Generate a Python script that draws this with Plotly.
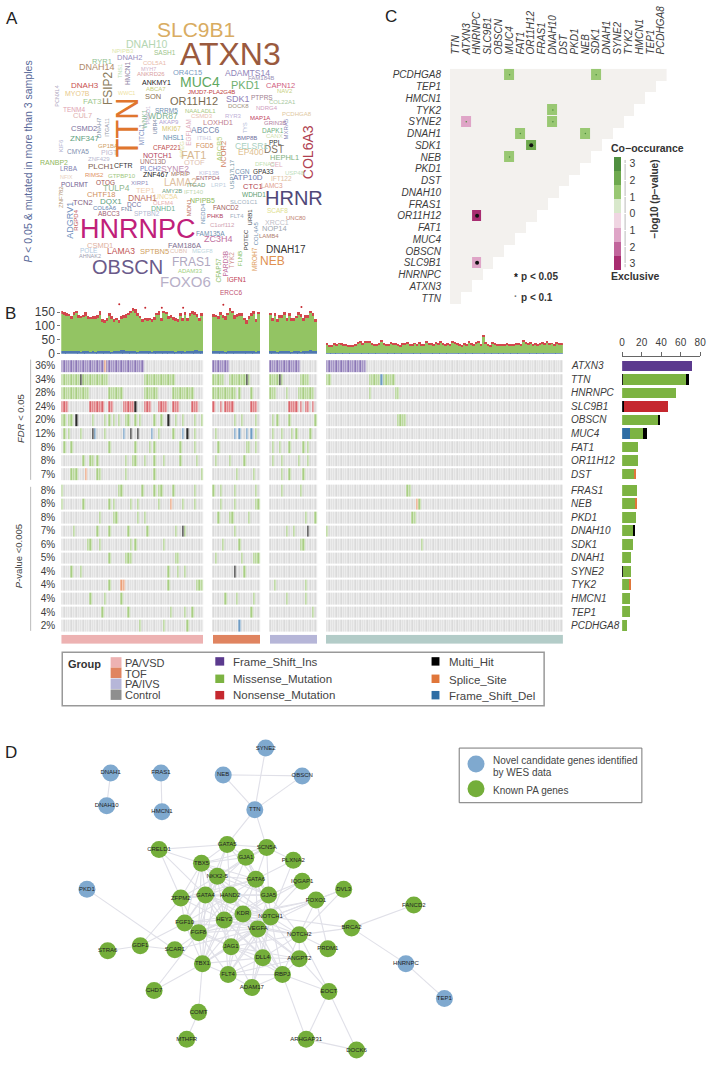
import plotly.graph_objects as go

W, H = 718, 1070
FONT = "Liberation Sans"
TXT = "#3c3c3c"

# ---- panel A, word cloud: word, x, y, size, colour, angle
words = [
 ("SLC9B1",195,30,21,"#D9AC62",0),("ATXN3",230,54,32,"#9A5A3E",0),("DNAH10",146,44,10.5,"#B5D6B2",0),
 ("NPIPB3",122,51,6,"#DDE6A8",0),("SASH1",164,53,6.5,"#9CC48A",0),("RYR1",100,62,7.5,"#8FBF8F",0),
 ("DNAH2",128,58,7.5,"#9A8FC0",0),("COL5A1",154,63,6,"#E8B8A8",0),("DNAH14",95,67,9,"#B08A6A",0),
 ("MYH7",147,69,5.5,"#D0B0C8",0),("ANKRD26",150,74,6,"#D9A0A0",0),("OR4C15",187,73,7.5,"#7A9ABF",0),
 ("ADAMTS14",248,73,8.5,"#8E82B8",0),("FAM184B",261,79,6,"#9A90B8",0),("FSIP2",107,89,12,"#8A7B5C",-90),
 ("TNS1",118,72,5.5,"#B5DDB0",-90),("HMCN1",126,74,6.5,"#8F85A8",-90),("ANKMY1",155,83,7,"#222222",0),
 ("ABCA7",155,90,6,"#C8D080",0),("MUC4",199,83,14,"#5FA85F",0),("PKD1",246,86,11,"#6FB06F",0),
 ("CAPN12",281,86,7.5,"#D06080",0),("DNAH3",83,86,8,"#C85050",0),("MYO7B",75,94,7,"#E8C88A",0),
 ("JMJD7-PLA2G4B",211,93,6,"#C04040",0),("NAV2",286,92,6,"#C8D080",0),("WWC1",125,94,5.5,"#EEE2A0",0),
 ("SON",152,97,7.5,"#8A7050",0),("FAT3",91,102,8,"#A0C890",0),("OR11H12",193,102,11,"#7A6A50",0),
 ("SDK1",238,100,9,"#8F7FB8",0),("PTPRS",262,98,6.5,"#A08090",0),("COL22A1",283,103,6,"#A8C8A0",0),
 ("DOCK8",238,107,6,"#A09080",0),("PCNXL4",55,97,5.5,"#B0A8C0",-90),("TENM4",72,110,6.5,"#E0A0B0",0),
 ("CUL7",81,116,7.5,"#E0B0B0",0),("NDRG4",267,109,6,"#D0A0C0",0),("NAALADL1",200,112,6,"#A8C880",0),
 ("SRRM5",166,111,6.5,"#7090B0",0),("CSMD3",202,117,6,"#E8C0B0",0),("PCDHGA8",298,115,6,"#E0C8A0",0),
 ("DNAH7",97,128,6,"#8090A8",-90),("ITGA11",105,128,5.5,"#9098A8",-90),("WDR87",162,117,8.5,"#80B090",0),
 ("RYR3",233,117,6,"#C0B0D8",0),("MAP1A",260,119,6,"#C04060",0),("GRIN3B",275,124,6,"#B080A0",0),
 ("AKAP9",168,123,6,"#B0A0D0",0),("MKI67",171,129,6.5,"#D8C870",0),("LOXHD1",218,123,7.5,"#C08090",0),
 ("MTCL1",140,135,6.5,"#8090C0",-90),("WNK1",143,120,6.5,"#90C0A0",-90),("PRKD1",147,116,5.5,"#C0B0D0",-90),
 ("UBR4",154,128,5.5,"#7080A0",-90),("EGFLAM",187,133,6.5,"#E0B0C0",-90),("CSMD2",82,129,7.5,"#7A70A0",0),
 ("ZNF347",83,139,8,"#60A080",0),("ABCC6",205,131,8.5,"#7888B0",0),("TYS",245,128,5.5,"#B0B8D8",-90),
 ("DAPK1",273,131,6.5,"#70B080",0),("CANX",275,137,6,"#D0E0B0",0),("MXRA5",287,130,6,"#8888B8",-90),
 ("NHSL1",173,138,6.5,"#6090B0",0),("BMP8B",247,139,6,"#7070A0",0),("ITIH1",204,139,6,"#C8C8E0",0),
 ("PPL",276,143,6.5,"#333333",0),("DST",274,150,10,"#807060",0),("FGD5",205,146,6.5,"#D09060",0),
 ("CFAP221",166,148,6.5,"#C05050",0),("GP1BA",106,147,6,"#D0A060",0),("ABCB5",219,150,7.5,"#B0D080",-90),
 ("NCOR2",224,155,7.5,"#D08060",-90),("CELSR1",252,147,8.5,"#A8D0C0",0),("KIF6",59,147,6,"#B0B0D0",-90),
 ("CMYA5",76,152,6.5,"#8090B0",0),("PIGT",108,154,7,"#C0B8D0",0),("SPEG",181,150,6,"#D8E0A0",-90),
 ("NOTCH1",156,157,7,"#B04060",0),("FAT1",193,156,11,"#D8B890",0),("EP400",251,153,8.5,"#E0C090",0),
 ("HEPHL1",285,159,7.5,"#80B080",0),("ZNF429",97,160,6,"#B8B8D0",0),("UNC13D",152,163,6.5,"#A07070",0),
 ("OTOF",194,164,7.5,"#E0C0B0",0),("USP17L17",232,175,6,"#7090A0",-90),("RANBP2",52,164,7,"#90B860",0),
 ("DFNA5",265,165,6,"#C0E0B0",0),("CEL",277,166,6.5,"#E0B0C0",0),("PLCH1",99,168,8,"#806050",0),
 ("CFTR",122,167,7,"#333333",0),("LRBA",67,170,6.5,"#8080B0",0),("SYNE2",174,170,8.5,"#C090B0",0),
 ("PLCH2",149,170,6.5,"#7080C0",0),("COL6A3",309,153,14,"#B04050",-90),("RIMS2",93,176,6,"#E09060",0),
 ("GTPBP10",120,177,6,"#A0C880",0),("ZNF467",154,176,7,"#222222",0),("MPRIP",180,175,6,"#A07060",0),
 ("KIF13B",209,174,6,"#C0C0E0",0),("CGN",243,173,6.5,"#7090B0",0),("GPA33",264,173,6.5,"#333333",0),
 ("USP48",296,174,6,"#C0E0C0",0),("ENTPD4",208,179,6,"#A06070",0),("ATP10D",248,179,8,"#7080B0",0),
 ("IFT122",282,180,6.5,"#E0C0A0",0),("NFIX",64,178,5.5,"#E8D0C0",0),("POLRMT",72,186,6.5,"#706090",0),
 ("OTOG",104,184,6.5,"#A05050",0),("LAMA2",180,184,10,"#E0C0A0",0),("XIRP1",139,184,6,"#9090C0",0),
 ("ITGAD",196,186,6,"#70A080",0),("LRP1",219,186,6,"#C0D0E0",0),("LAMC3",272,187,6.5,"#E0A090",0),
 ("CTC1",253,188,7.5,"#B04050",0),("ZNF782",58,198,6,"#B09070",-90),("CHTF18",99,196,7.5,"#D09060",0),
 ("TULP4",115,189,8.5,"#90B890",0),("TEP1",144,192,7.5,"#F0D0B0",0),("AMY2B",171,192,6,"#70A080",0),
 ("IFT140",193,193,6,"#C0D8B0",0),("WDHD1",254,196,6.5,"#60A070",0),("DNAH1",141,199,8.5,"#C07060",0),
 ("UNC5A",165,198,7,"#F0D8A0",0),("ADGRV1",67,222,9,"#7090C0",-90),("RGPD4",73,222,6,"#C05050",-90),
 ("TCN2",81,204,7.5,"#806080",0),("DQX1",109,203,8,"#60A080",0),("DCC",133,206,6.5,"#7070A0",0),
 ("NPIPB5",202,202,7,"#90B860",0),("SLCO1C1",244,203,6,"#A0B0C0",0),("OLFM4",163,204,6,"#E8B0B0",0),
 ("COL6A6",103,209,6,"#6080B0",0),("ABCC3",107,215,6.5,"#A06070",0),("FN1",126,210,6,"#7080A0",0),
 ("DNHD1",162,210,7,"#70B090",0),("MDN1",188,209,6,"#C07060",-90),("NEDD4",202,215,6,"#7090B0",-90),
 ("FANCD2",226,209,6.5,"#A06060",0),("FLT4",237,217,6,"#A0B0C0",0),("URB1",250,218,6,"#333333",-90),
 ("SCAF8",278,212,6.5,"#E0E090",0),("UNC80",297,219,6,"#C08070",0),("SPTBN2",146,215,6.5,"#B0B8D0",0),
 ("PHKB",215,217,6,"#B04060",0),("XRCC1",277,224,7,"#C0C0C8",0),("C1orf112",222,226,6,"#D0A0B0",0),
 ("NOP14",275,230,7.5,"#A0A8B0",0),("HNRNPC",137,231,27,"#C0207A",0),("POTEC",246,241,6,"#333333",-90),
 ("COL4A5",257,235,6,"#7090B0",-90),("FAM135A",210,235,6.5,"#7090B0",0),("LAMB4",269,238,6,"#B08070",0),
 ("FAM186A",184,247,7.5,"#807090",0),("ZC3H4",218,241,9,"#C070A0",0),("CSMD1",98,247,7.5,"#E0B0A0",0),
 ("CUBN",178,253,6,"#E0C0B0",0),("LAMA3",119,253,8.5,"#C05050",0),("SPTBN5",153,253,7.5,"#D0A060",0),
 ("POLE",87,252,6.5,"#B0C8E0",0),("MEGF8",202,253,6,"#C0D8E0",0),("DNAH17",287,251,10,"#333333",0),
 ("AHNAK2",88,258,5.5,"#A0A0B0",0),("HRNR",295,199,20,"#504878",0),("NEB",273,263,12,"#E09050",0),
 ("OBSCN",126,269,20,"#6A5A8A",0),("FRAS1",191,264,12,"#B0A8C0",0),("ADAM33",190,273,6,"#A0D080",0),
 ("FOXO6",185,283,15,"#B8B0C8",0),("CFAP57",218,272,6.5,"#90C070",-90),("PARD3B",225,265,6.5,"#C070A0",-90),
 ("TYK2",231,262,6.5,"#D09090",-90),("FLNB",240,260,6,"#80C060",-90),("MROH7",254,261,6.5,"#E0A060",-90),
 ("IGFN1",237,281,6.5,"#C04050",0),("ERCC6",231,294,6.5,"#C05070",0),("TTN",126,128,31,"#E0762E",-90),
]

# ---- panel B, oncoprint
onco_genes = ["ATXN3","TTN","HNRNPC","SLC9B1","OBSCN","MUC4","FAT1","OR11H12","DST",
              "FRAS1","NEB","PKD1","DNAH10","SDK1","DNAH1","SYNE2","TYK2","HMCN1","TEP1","PCDHGA8"]
onco_pct = ["36%","34%","28%","24%","20%","12%","8%","8%","7%",
            "8%","8%","8%","7%","6%","5%","4%","4%","4%","4%","2%"]
row_y = [0,1,2,3,4,5,6,7,8,9.2,10.2,11.2,12.2,13.2,14.2,15.2,16.2,17.2,18.2,19.2]
group_sizes = [60, 20, 20, 100]
group_names = ["PA/VSD", "TOF", "PA/IVS", "Control"]
group_colors = ["#EDB2B2", "#E08460", "#B6B6D8", "#B3CCC8"]
mut_colors = {"N": "#DADADA", "I": "#5B3A8E", "M": "#7CB342", "S": "#C5282F",
              "H": "#000000", "P": "#E0763A", "D": "#2E6DA4"}
# oncoprint strips are one sample wide and read paler than the solid bars
cell_colors = {"N": "#DADADA", "I": "#8C78B6", "M": "#A9CE84", "S": "#D9666C",
               "H": "#2A2A2A", "P": "#EBA078", "D": "#6E9CC4"}

def r(a, b):
    return list(range(a, b + 1))

# sample numbers inside each group: (PA/VSD, TOF, PA/IVS, Control), per mutation type
onco = {
 "ATXN3": {"I": (r(0,17)+r(19,34), r(0,6), r(0,12), r(0,16)), "P": ([18],[],[],[])},
 "TTN": {"M": (r(0,7)+r(9,19)+r(35,47), r(0,4)+r(7,13)+[15], r(0,3)+[5]+r(13,16), [0,1]+r(18,22)+r(24,28)),
         "H": ([8],[14],[4],[]), "D": ([],[],[],[23])},
 "HNRNPC": {"M": (r(0,11)+r(20,25)+r(35,40)+r(47,55), r(0,4)+r(5,9)+[11,16], r(0,2)+[7]+r(12,18), [18,29,30])},
 "SLC9B1": {"S": (r(0,2)+r(12,17)+[20,21]+r(26,30)+r(35,37)+r(41,44)+r(47,49)+r(55,57), [0,3]+r(5,8)+r(16,18), r(8,11)+[13,15,16,18], []),
            "H": ([31],[],[],[])},
 "OBSCN": {"M": ([0,1,3,4,13,18,20,27,28,33,39,42,48,51,56,59,22,31,24], [9,12,18], [1,3,8,19], r(30,33)),
           "H": ([6,45],[],[],[])},
 "MUC4": {"M": ([1,3,8,41,18,47,56], [1,18], [1,5,9,11,17], []), "H": ([13,29,32,53],[],[],[]),
          "D": ([14,26,38,51],[9,11,14,16],[],[])},
 "FAT1": {"M": ([1,4,20,31,39,50,37,56], [2,14,18,15], [1,4,8,14,16], [])},
 "OR11H12": {"M": ([9,12,13,15,27,30,31,35,39,43,50,57], [1,7,13], [1,5,12,16], [])},
 "DST": {"M": ([4,5,6,15,16,27,39,59], [10,17], [5,8,14], []), "P": ([10],[],[],[])},
 "FRAS1": {"M": ([0,24,25,34,39,41,42,47,56], [0,3,9,18], [5,13], [34,35])},
 "NEB": {"M": ([0,9,20,22,29,32,41,51,56], [3,9,18,19], [], [39]), "P": ([46],[],[],[38])},
 "PKD1": {"M": ([16,22,23,32,35], [2,7,8,15], [15,19], [36,37])},
 "DNAH10": {"M": ([5,15,20,28,36,48,52], [9], [7,10], [0]), "H": ([51],[],[16],[])},
 "SDK1": {"M": ([11,12,16,29,31,43], [4,11], [13,14], [40])},
 "DNAH1": {"M": ([20,27,28,29,48,49], [1,12,17,18,19], [], [])},
 "SYNE2": {"M": ([4,8,45,49,52], [13], [], []), "H": ([],[9],[],[])},
 "TYK2": {"M": ([20,45,57,58,59], [], [2,15], []), "P": ([25,26],[],[],[])},
 "HMCN1": {"M": ([12,18,25], [5,10,17], [7,15], [])},
 "TEP1": {"M": ([17,28,46,52,55], [16], [18], [])},
 "PCDHGA8": {"M": ([33,43,53], [], [], []), "D": ([],[11],[],[])},
}

# mutation burden per sample
burden_total = [
 152,150,146,143,137,150,155,140,135,140,150,136,133,135,134,138,152,125,120,128,
 146,136,125,128,122,135,138,142,148,155,165,160,145,135,126,130,128,130,126,132,
 148,152,128,155,150,135,140,132,128,125,145,130,150,128,145,152,150,142,130,145,
 142,140,136,150,138,135,148,165,155,138,142,145,148,130,120,135,145,155,125,150,
 148,130,145,125,138,140,150,128,145,130,128,135,150,142,130,138,140,155,145,125,
 38,30,32,36,34,38,36,33,32,31,30,30,32,42,44,40,46,44,42,36,
 32,34,38,46,36,34,32,40,38,36,34,30,36,38,42,34,32,38,36,40,
 34,32,44,36,38,34,40,36,42,38,34,36,32,44,40,38,34,30,36,34,
 44,36,32,42,44,34,66,42,32,30,40,36,34,32,34,32,38,36,32,34,
 36,38,36,48,40,36,42,34,38,32,36,42,38,44,36,38,32,42,36,38,
]
burden_blue = [
 11,9,8,9,8,10,11,8,7,8,9,8,7,8,7,8,9,9,8,8,
 8,7,8,9,8,12,14,11,9,8,9,8,7,9,8,9,8,8,7,9,
 8,9,8,8,9,9,10,8,7,8,9,8,7,9,8,9,14,12,8,9,
 8,9,8,9,8,7,9,8,8,9,8,9,10,11,10,9,8,8,7,9,
 8,9,8,7,9,8,8,9,8,7,8,9,8,7,8,8,9,15,10,8,
 3,2,2,3,2,2,3,2,2,2,3,2,2,3,2,2,3,2,2,2,
 3,2,2,3,2,2,3,2,2,3,2,2,3,2,2,2,3,2,3,2,
 2,3,2,2,3,2,2,2,3,2,3,2,2,3,2,2,2,3,2,2,
 3,2,2,3,2,2,3,2,2,2,3,2,2,3,2,2,3,2,2,2,
 2,3,2,2,2,3,2,2,3,2,2,3,2,2,3,2,2,3,2,2,
]
burden_red = [
 8,10,12,9,11,9,10,12,8,9,14,10,8,9,7,9,12,10,8,12,
 9,11,12,8,10,9,11,12,10,9,12,13,10,8,11,9,12,10,11,9,
 10,12,11,9,8,11,10,12,9,10,8,12,10,11,9,10,12,9,13,9,
 10,9,12,10,8,12,9,11,10,12,9,10,11,8,12,10,9,11,12,8,
 10,12,9,11,8,10,9,12,10,11,9,8,12,9,11,10,12,9,10,11,
 4,3,5,3,4,3,4,5,3,4,3,3,4,5,4,6,5,4,3,4,
 3,4,5,4,3,4,3,5,4,3,4,3,4,5,4,3,4,3,5,4,
 3,4,5,3,4,3,5,4,3,4,5,3,4,4,5,4,3,4,3,4,
 5,4,3,4,5,3,6,4,3,4,5,3,4,3,4,3,4,5,3,4,
 3,4,5,4,3,4,5,3,4,3,4,5,4,3,4,3,4,5,3,4,
]
outlier_samples = [24, 35, 42, 51, 68, 101]
outlier_values = [178, 165, 165, 165, 176, 168]

# right hand bars
bar_del = [0,0,0,0,0,8,0,0,0,0,0,0,0,0,0,0,0,0,0,0]
bar_lead = [0,0.7,0,1.5,0,0,0,0,0,0,0,0,0,0,0,0.7,0,0,0,0]
bar_ins = [71.5,0,0,0,0,0,0,0,0,0,0,0,0,0,0,0,0,0,0,0]
bar_mis = [0,64.5,55,0,37,13,16.5,16.5,13,15.6,13.5,14.6,12,11.6,9.5,8,8,8,8,4.8]
bar_non = [0,0,0,45.5,0,0,0,0,0,0,0,0,0,0,0,0,0,0,0,0]
bar_hit = [0,3,0,0,2,4,0,0,0,0,0,0,1.5,0,0,0,0,0,0,0]
bar_spl = [0,0,0,0,0,0,0,0,1,0,1.5,0,0,0,0,0,1,0,0,0]

# ---- panel C, pairwise somatic interactions
c_genes = ["TTN","ATXN3","HNRNPC","SLC9B1","OBSCN","MUC4","FAT1","OR11H12","FRAS1","DNAH10",
           "DST","PKD1","NEB","SDK1","DNAH1","SYNE2","TYK2","HMCN1","TEP1","PCDHGA8"]
c_pairs = [("PCDHGA8","MUC4",1.5),("PCDHGA8","SDK1",1.5),("TYK2","DNAH10",1.5),("SYNE2","DNAH10",1.5),
           ("SYNE2","ATXN3",-1.5),("DNAH1","FAT1",1.5),("DNAH1","NEB",1.5),("SDK1","OR11H12",2.0),
           ("NEB","MUC4",1.5),("OR11H12","HNRNPC",-2.6),("SLC9B1","HNRNPC",-1.5)]
c_star = [("SDK1","OR11H12"),("OR11H12","HNRNPC"),("SLC9B1","HNRNPC")]
c_dot = [("PCDHGA8","MUC4"),("PCDHGA8","SDK1"),("TYK2","DNAH10"),("SYNE2","DNAH10"),("SYNE2","ATXN3"),
         ("DNAH1","FAT1"),("DNAH1","NEB"),("NEB","MUC4")]
c_bands = ["#A82C70","#C2659C","#DFA5C7","#F0D5E2","#D8E8CB","#99C873","#6EA94E","#4F8F3F"]
c_ticks = [-3,-2,-1,0,1,2,3]

# ---- panel D, network
nodes_blue = {"SYNE2":(266,753),"DNAH1":(109,778),"FRAS1":(160,778),"NEB":(223,780),"OBSCN":(303,781),
              "DNAH10":(105,811),"HMCN1":(161,817),"TTN":(255,815),"PKD1":(85,895),"HNRNPC":(408,970),"TEP1":(447,1005)}
nodes_green = {"CRELD1":(158,855),"GATA5":(227,850),"SCN5A":(267,853),"GJA1":(246,863),"TBX5":(201,869),
               "PLXNA2":(294,866),"NKX2-5":(217,882),"GATA6":(256,885),"IQGAP1":(303,887),"DVL3":(345,895),
               "GATA4":(205,901),"HAND2":(230,901),"GJA5":(269,901),"ZFPM2":(180,904),"FOXO1":(317,906),
               "FANCD2":(416,911),"KDR":(243,920),"NOTCH1":(271,923),"HEY2":(224,926),"FGF10":(184,929),
               "VEGFA":(258,935),"BRCA2":(353,934),"FGF8":(198,939),"NOTCH2":(300,941),"JAG1":(231,953),
               "GDF1":(139,952),"SCAR1":(174,956),"STRA6":(106,957),"PRDM1":(329,955),"DLL4":(263,964),
               "ANGPT2":(300,965),"TBX1":(202,970),"FLT4":(228,981),"RBPJ":(283,981),"ADAM17":(252,994),
               "CHD7":(153,997),"EOCT":(330,998),"COMT":(198,1019),"MTHFR":(186,1046),"ARHGAP31":(307,1046),
               "DOCK6":(358,1057)}
edges = [
 ("TTN","SYNE2"),("TTN","NEB"),("TTN","OBSCN"),("NEB","OBSCN"),("DNAH1","DNAH10"),("FRAS1","HMCN1"),
 ("TTN","GATA5"),("TTN","SCN5A"),("PKD1","SCAR1"),("SCAR1","TBX1"),("STRA6","GDF1"),("GDF1","FGF10"),
 ("GDF1","ZFPM2"),("GDF1","SCAR1"),("SCAR1","FGF8"),("CHD7","TBX1"),("CHD7","FGF8"),("COMT","TBX1"),
 ("COMT","MTHFR"),("CRELD1","TBX5"),("CRELD1","GATA5"),("CRELD1","ZFPM2"),("CRELD1","GATA4"),
 ("FANCD2","BRCA2"),("BRCA2","HNRNPC"),("HNRNPC","TEP1"),("BRCA2","NOTCH1"),("BRCA2","NOTCH2"),
 ("DVL3","NOTCH1"),("DVL3","FOXO1"),("DVL3","NOTCH2"),("PRDM1","NOTCH2"),("PRDM1","FOXO1"),("EOCT","NOTCH2"),
 ("EOCT","ANGPT2"),("EOCT","RBPJ"),("EOCT","ARHGAP31"),("EOCT","DOCK6"),("ARHGAP31","DOCK6"),("ARHGAP31","RBPJ"),
 ("PLXNA2","GATA6"),("PLXNA2","NOTCH1"),("PLXNA2","SCN5A"),("IQGAP1","KDR"),("IQGAP1","VEGFA"),("IQGAP1","GJA5"),
 ("FOXO1","NOTCH1"),("FOXO1","VEGFA"),("FOXO1","KDR"),("FOXO1","NOTCH2"),("FOXO1","HEY2"),
 ("GATA5","SCN5A"),("GATA5","GJA1"),("GATA5","TBX5"),("GATA5","NKX2-5"),("GATA5","GATA6"),("GATA5","GATA4"),
 ("GATA5","HAND2"),("SCN5A","GJA1"),("SCN5A","GATA6"),("SCN5A","GJA5"),("SCN5A","NKX2-5"),("SCN5A","TBX5"),
 ("GJA1","TBX5"),("GJA1","NKX2-5"),("GJA1","GATA6"),("GJA1","GATA4"),("GJA1","GJA5"),("GJA1","HAND2"),("GJA1","NOTCH1"),
 ("TBX5","NKX2-5"),("TBX5","GATA6"),("TBX5","GATA4"),("TBX5","HAND2"),("TBX5","ZFPM2"),("TBX5","HEY2"),("TBX5","FGF10"),
 ("TBX5","GJA5"),("TBX5","FGF8"),("NKX2-5","GATA6"),("NKX2-5","GATA4"),("NKX2-5","HAND2"),("NKX2-5","GJA5"),
 ("NKX2-5","ZFPM2"),("NKX2-5","KDR"),("NKX2-5","HEY2"),("NKX2-5","NOTCH1"),("NKX2-5","FGF10"),("NKX2-5","FGF8"),
 ("NKX2-5","TBX1"),("NKX2-5","VEGFA"),("GATA6","GATA4"),("GATA6","HAND2"),("GATA6","GJA5"),("GATA6","ZFPM2"),
 ("GATA6","NOTCH1"),("GATA6","KDR"),("GATA6","HEY2"),("GATA6","VEGFA"),("GATA4","HAND2"),("GATA4","ZFPM2"),
 ("GATA4","GJA5"),("GATA4","KDR"),("GATA4","NOTCH1"),("GATA4","HEY2"),("GATA4","FGF10"),("GATA4","FGF8"),
 ("GATA4","TBX1"),("GATA4","VEGFA"),("GATA4","JAG1"),("HAND2","GJA5"),("HAND2","ZFPM2"),("HAND2","KDR"),
 ("HAND2","NOTCH1"),("HAND2","HEY2"),("HAND2","FGF10"),("HAND2","FGF8"),("HAND2","VEGFA"),("HAND2","TBX1"),
 ("GJA5","NOTCH1"),("GJA5","KDR"),("GJA5","VEGFA"),("GJA5","HEY2"),("GJA5","NOTCH2"),("ZFPM2","FGF10"),("ZFPM2","HEY2"),
 ("ZFPM2","FGF8"),("KDR","NOTCH1"),("KDR","HEY2"),("KDR","VEGFA"),("KDR","FGF8"),("KDR","FGF10"),("KDR","JAG1"),
 ("KDR","DLL4"),("KDR","NOTCH2"),("KDR","ANGPT2"),("KDR","FLT4"),("KDR","TBX1"),("KDR","RBPJ"),("NOTCH1","HEY2"),
 ("NOTCH1","VEGFA"),("NOTCH1","NOTCH2"),("NOTCH1","JAG1"),("NOTCH1","DLL4"),("NOTCH1","ANGPT2"),("NOTCH1","RBPJ"),
 ("NOTCH1","FLT4"),("NOTCH1","FGF8"),("NOTCH1","TBX1"),("NOTCH1","ADAM17"),("HEY2","VEGFA"),("HEY2","FGF10"),
 ("HEY2","FGF8"),("HEY2","JAG1"),("HEY2","DLL4"),("HEY2","NOTCH2"),("HEY2","TBX1"),("HEY2","FLT4"),("HEY2","RBPJ"),
 ("FGF10","FGF8"),("FGF10","VEGFA"),("FGF10","TBX1"),("FGF10","JAG1"),("VEGFA","FGF8"),("VEGFA","NOTCH2"),
 ("VEGFA","JAG1"),("VEGFA","DLL4"),("VEGFA","ANGPT2"),("VEGFA","TBX1"),("VEGFA","FLT4"),("VEGFA","RBPJ"),("VEGFA","ADAM17"),
 ("FGF8","TBX1"),("FGF8","JAG1"),("FGF8","FLT4"),("NOTCH2","JAG1"),("NOTCH2","DLL4"),("NOTCH2","ANGPT2"),("NOTCH2","RBPJ"),
 ("JAG1","DLL4"),("JAG1","TBX1"),("JAG1","FLT4"),("JAG1","RBPJ"),("JAG1","ADAM17"),("JAG1","ANGPT2"),("DLL4","ANGPT2"),
 ("DLL4","FLT4"),("DLL4","RBPJ"),("DLL4","ADAM17"),("DLL4","TBX1"),("ANGPT2","RBPJ"),("ANGPT2","FLT4"),("TBX1","FLT4"),
 ("FLT4","RBPJ"),("FLT4","ADAM17"),("RBPJ","ADAM17"),("SCAR1","VEGFA"),
]


def dx(a, b):
    return [a / W, b / W]

def dy(top, bottom):
    return [1 - bottom / H, 1 - top / H]

def px(x):
    return x / W

def py(y):
    return 1 - y / H

hidden = dict(visible=False, showgrid=False, zeroline=False)
fig = go.Figure()

# ---- A
fig.add_trace(go.Scatter(x=[w[1] for w in words], y=[w[2] for w in words], mode="markers",
                         marker=dict(opacity=0, size=1), xaxis="x", yaxis="y", hoverinfo="skip"))
anns = []
for w, x, y, s, c, a in words:
    anns.append(dict(text=w, x=x, y=y, xref="x", yref="y", showarrow=False, textangle=a,
                     xanchor="center", yanchor="middle", borderpad=0,
                     font=dict(size=s, color=c, family=FONT)))

# ---- C
c_idx = {g: i for i, g in enumerate(c_genes)}
rows = c_genes[::-1]
base = [[1 if c_idx[col] <= c_idx[row] else None for col in c_genes] for row in rows]
fig.add_trace(go.Heatmap(z=base, x=c_genes, y=rows, colorscale=[[0, "#F3F1EE"], [1, "#F3F1EE"]],
                         showscale=False, xaxis="x2", yaxis="y2", hoverongaps=False))
sig = [[None] * 20 for _ in rows]
for row, col, v in c_pairs:
    sig[rows.index(row)][c_idx[col]] = v
stops = []
for i, c in enumerate(c_bands):
    stops += [[i / 8, c], [(i + 1) / 8, c]]
fig.add_trace(go.Heatmap(z=sig, x=c_genes, y=rows, colorscale=stops, zmin=-3.4, zmax=3.4, xgap=1, ygap=1,
                         xaxis="x2", yaxis="y2", hoverongaps=False,
                         colorbar=dict(x=px(619), xanchor="left", y=py(215), yanchor="middle",
                                       len=114 / H, thickness=7, outlinewidth=0, ticks="outside", ticklen=7,
                                       tickcolor="white", xpad=0, ypad=0,
                                       tickvals=c_ticks, ticktext=[str(abs(t)) for t in c_ticks],
                                       tickfont=dict(size=10.5, color=TXT, family=FONT))))
fig.add_trace(go.Scatter(x=[p[1] for p in c_star], y=[p[0] for p in c_star], mode="markers",
                         marker=dict(size=4, color="#111111"), xaxis="x2", yaxis="y2"))
fig.add_trace(go.Scatter(x=[p[1] for p in c_dot], y=[p[0] for p in c_dot], mode="markers",
                         marker=dict(size=1.5, color="#4c8c3c"), xaxis="x2", yaxis="y2"))

# ---- B
n_col = sum(group_sizes) + 12
offsets = [0, 64, 88, 112]
codes = {"N": 0, "I": 1, "M": 2, "S": 3, "H": 4, "P": 5, "D": 6}
order = ["N", "I", "M", "S", "H", "P", "D"]
scale = [[i / 6, cell_colors[k]] for i, k in enumerate(order)]

gap_cols = set(range(n_col))
for off, n in zip(offsets, group_sizes):
    gap_cols -= set(range(off, off + n))
cols = list(range(n_col))
matrix = []
for g in onco_genes:
    row = [None if c in gap_cols else 0 for c in cols]
    for kind, per_group in onco[g].items():
        for off, samples in zip(offsets, per_group):
            for s in samples:
                row[off + s] = codes[kind]
    matrix.append(row)
for lo, hi in ((0, 9), (9, 20)):
    fig.add_trace(go.Heatmap(z=matrix[lo:hi], x=cols, y=row_y[lo:hi], colorscale=scale, zmin=0, zmax=6,
                             showscale=False, xgap=0.7, ygap=2, xaxis="x3", yaxis="y3", hoverongaps=False))

strip = [None] * n_col
for i, (off, n) in enumerate(zip(offsets, group_sizes)):
    for c in range(off, off + n):
        strip[c] = i
strip_scale = []
for i, c in enumerate(group_colors):
    strip_scale += [[i / 4, c], [(i + 1) / 4, c]]
fig.add_trace(go.Heatmap(z=[strip], x=cols, y=[0], colorscale=strip_scale, zmin=-0.5, zmax=3.5,
                         showscale=False, xaxis="x3", yaxis="y5", hoverongaps=False))

burden_x = []
for off, n in zip(offsets, group_sizes):
    burden_x += list(range(off, off + n))
burden_green = [t - b - s for t, b, s in zip(burden_total, burden_blue, burden_red)]
for vals, color in ((burden_blue, "#4F78B0"), (burden_green, "#93C463"), (burden_red, "#D2474C")):
    fig.add_trace(go.Bar(x=burden_x, y=vals, marker=dict(color=color, line_width=0), xaxis="x3", yaxis="y6", width=0.8))
fig.add_trace(go.Scatter(x=outlier_samples, y=outlier_values, mode="markers",
                         marker=dict(size=2, color=mut_colors["S"]), xaxis="x3", yaxis="y6"))

for vals, color in ((bar_del, "D"), (bar_lead, "H"), (bar_ins, "I"), (bar_mis, "M"),
                    (bar_non, "S"), (bar_hit, "H"), (bar_spl, "P")):
    fig.add_trace(go.Bar(x=vals, y=row_y, orientation="h", marker=dict(color=mut_colors[color], line_width=0),
                         width=0.8, xaxis="x4", yaxis="y4"))

for g, y in zip(onco_genes, row_y):
    anns.append(dict(text=g, x=px(573), y=y, xref="paper", yref="y3", xanchor="left", yanchor="middle",
                     showarrow=False, font=dict(size=10, color=TXT, family=FONT, style="italic")))

# ---- D
all_nodes = {**nodes_blue, **nodes_green}
edge_x, edge_y = [], []
for a, b in edges:
    edge_x += [all_nodes[a][0], all_nodes[b][0], None]
    edge_y += [all_nodes[a][1], all_nodes[b][1], None]
fig.add_trace(go.Scatter(x=edge_x, y=edge_y, mode="lines", line=dict(color="#E0E0E8", width=1.1),
                         xaxis="x7", yaxis="y7", hoverinfo="skip"))
for nd, color in ((nodes_blue, "#7FA9CF"), (nodes_green, "#74AE3A")):
    fig.add_trace(go.Scatter(x=[v[0] for v in nd.values()], y=[v[1] for v in nd.values()], text=list(nd),
                             mode="markers+text", textposition="middle center",
                             textfont=dict(size=6, color="#222222", family=FONT),
                             marker=dict(size=17, color=color), cliponaxis=False, xaxis="x7", yaxis="y7"))
fig.add_trace(go.Scatter(x=[479, 479], y=[769, 794], mode="markers", marker=dict(size=17, color=["#7FA9CF", "#74AE3A"]),
                         xaxis="x7", yaxis="y7"))

# ---- free text
def label(text, x, y, size=10, color=TXT, angle=0, anchor="left", **font):
    anns.append(dict(text=text, x=px(x), y=py(y), xref="paper", yref="paper", showarrow=False, xanchor=anchor,
                     yanchor="middle", borderpad=0, textangle=angle,
                     font=dict(size=size, color=color, family=FONT, **font)))

label("A", 9, 19, 17, "#222222", anchor="center")
label("B", 8, 316, 17, "#222222", anchor="center")
label("C", 393, 17, 17, "#222222", anchor="center")
label("D", 8, 757, 17, "#222222", anchor="center")
label("<i>P</i> < 0.05 & mutated in more than 3 samples", 25, 163, 10.5, "#5A6A9A", -90, "center")
label("<i>FDR</i> < 0.05", 17, 421, 9.5, "#444444", -90, "center")
label("<i>P</i>-value <0.005", 16, 560, 9.5, "#444444", -90, "center")
label("<b>Co−occurance</b>", 615, 149, 10.5, "#333333")
label("<b>Exclusive</b>", 615, 278, 10.5, "#333333")
label("<b>−log10 (p−value)</b>", 660, 200, 10, "#333333", -90, "center")
label("<b>*</b>", 516, 279, 10, "#111111")
label("<b>p < 0.05</b>", 524, 278, 10, "#333333")
label("<b>·</b>", 516, 298, 10, "#777777")
label("<b>p < 0.1</b>", 524, 299, 10, "#333333")
label("<b>Group</b>", 65, 668, 11, "#333333")
for name, y in zip(group_names, (667, 678, 689, 700)):
    label(name, 123, y, 11, "#444444")
for name, y in zip(("Frame_Shift_Ins", "Missense_Mutation", "Nonsense_Mutation"), (666, 683, 700)):
    label(name, 232, y, 11.5, "#444444")
for name, y in zip(("Multi_Hit", "Splice_Site", "Frame_Shift_Del"), (666, 684, 700.5)):
    label(name, 451, y, 11.5, "#444444")
label("Novel candidate genes identified", 495, 766, 10, "#444444")
label("by WES data", 495, 778, 10, "#444444")
label("Known PA genes", 495, 796, 10, "#444444")

# ---- boxes and legend swatches
def box(x0, y0, x1, y1, fill=None, line=None, lw=1.2):
    shapes.append(dict(type="rect", xref="paper", yref="paper", x0=px(x0), x1=px(x1), y0=py(y0), y1=py(y1),
                       fillcolor=fill or "rgba(0,0,0,0)", line=dict(color=line or "rgba(0,0,0,0)", width=lw if line else 0)))

shapes = []
box(60, 656.5, 548, 710.5, line="#999999", lw=1.5)
box(462, 753, 647, 808, line="#777777", lw=1)
for color, y0 in zip(("#EDB2B2", "#E08460", "#B6B6D8", "#8F8F8F"), (661.5, 672, 683, 694)):
    box(109, y0, 120, y0 + 10.5, fill=color)
for color, y0 in zip((mut_colors["I"], mut_colors["M"], mut_colors["S"]), (661.5, 679, 695.5)):
    box(215, y0, 224, y0 + 8.5, fill=color)
for color, y0 in zip((mut_colors["H"], mut_colors["P"], mut_colors["D"]), (661.5, 679, 695.5)):
    box(434, y0, 442, y0 + 8.5, fill=color)
for x, y0, y1 in ((28, 362, 483), (28, 490, 635), (630, 161, 269)):
    shapes.append(dict(type="line", xref="paper", yref="paper", x0=px(x), x1=px(x), y0=py(y0), y1=py(y1),
                       line=dict(color="#BBBBBB", width=1)))

fig.update_layout(
    width=W, height=H, margin=dict(l=0, r=0, t=0, b=0), paper_bgcolor="white", plot_bgcolor="rgba(0,0,0,0)",
    showlegend=False, barmode="stack", bargap=0.2, annotations=anns, shapes=shapes,
    font=dict(family=FONT, color=TXT),
    xaxis=dict(domain=dx(0, 360), range=[0, 360], **hidden),
    yaxis=dict(domain=dy(0, 300), range=[300, 0], **hidden),
    xaxis2=dict(domain=dx(452.7, 672), side="top", anchor="y2", tickangle=-90, showgrid=False, zeroline=False,
                showline=False, ticks="", categoryorder="array", categoryarray=c_genes,
                tickmode="array", tickvals=c_genes, ticktext=c_genes, ticklabelstandoff=4,
                tickfont=dict(size=10, color=TXT, family=FONT, style="italic")),
    yaxis2=dict(domain=dy(60, 306), anchor="x2", showgrid=False, zeroline=False, showline=False, ticks="",
                categoryorder="array", categoryarray=c_genes, ticklabelstandoff=8,
                tickmode="array", tickvals=c_genes, ticktext=c_genes,
                tickfont=dict(size=10, color=TXT, family=FONT, style="italic")),
    xaxis3=dict(domain=dx(59, 567), range=[-0.5, n_col - 0.5], anchor="y3", **hidden),
    yaxis3=dict(domain=dy(361.5, 636.5), range=[19.7, -0.5], anchor="x3", showgrid=False, zeroline=False,
                tickmode="array", tickvals=row_y, ticktext=onco_pct, ticks="", ticklabelstandoff=5,
                tickfont=dict(size=10, color=TXT, family=FONT)),
    xaxis4=dict(domain=dx(627, 706), range=[0, 80], anchor="y4", side="top", showgrid=False, zeroline=False,
                showline=True, linecolor="#666666", linewidth=1, ticks="outside", ticklen=4, tickcolor="#666666",
                tickvals=[0, 20, 40, 60, 80], ticklabelstandoff=2, tickfont=dict(size=10, color=TXT, family=FONT)),
    yaxis4=dict(domain=dy(359.5, 636.5), range=[19.72, -0.65], anchor="x4", **hidden),
    yaxis5=dict(domain=dy(639, 648), range=[-0.5, 0.5], anchor="x3", **hidden),
    yaxis6=dict(domain=dy(304, 356), range=[0, 186], anchor="x3", showgrid=False, zeroline=False,
                tickvals=[0, 50, 100, 150], ticks="outside", ticklen=3, tickcolor="#777777",
                tickfont=dict(size=12, color=TXT, family=FONT)),
    xaxis7=dict(domain=dx(50, 660), range=[50, 660], anchor="y7", **hidden),
    yaxis7=dict(domain=dy(740, 1070), range=[1070, 740], anchor="x7", **hidden),
)

fig.write_html("out.html", config={"displayModeBar": False},
               post_script="document.body.style.margin='0';document.body.style.overflow='hidden';")
